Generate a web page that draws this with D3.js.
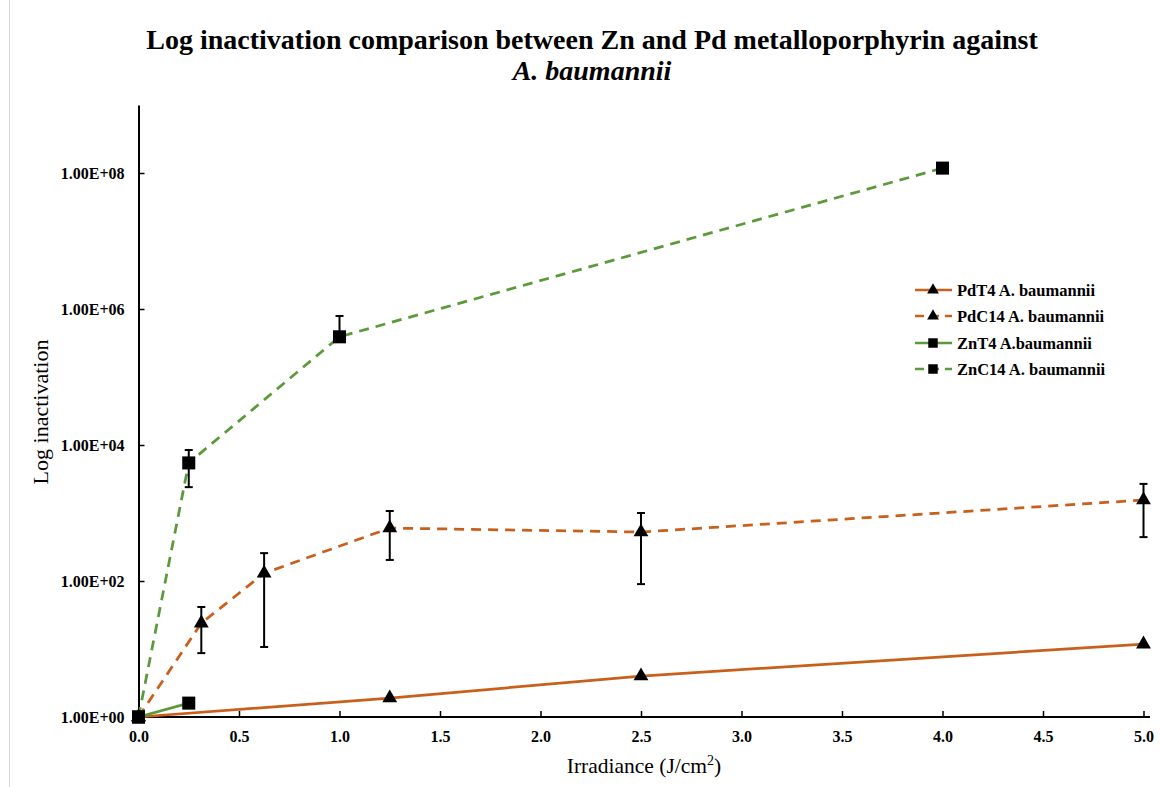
<!DOCTYPE html>
<html><head><meta charset="utf-8">
<script src="https://cdn.jsdelivr.net/npm/d3@7"></script>
<style>body{margin:0;background:#fff}svg{display:block}</style>
</head><body><svg id="c" width="1160" height="787"></svg>
<script>
const seriesNames = ["PdT4 A. baumannii","PdC14 A. baumannii","ZnT4 A.baumannii","ZnC14 A. baumannii"];
const pdT4X = [0, 1.25, 2.5, 5.0];
const pdT4Y = [1, 1.9, 4.0, 11.8];
const pdC14X = [0, 0.3125, 0.625, 1.25, 2.5, 5.0];
const pdC14Y = [1, 24, 130, 600, 525, 1550];
const pdC14Hi = [null, 41.5, 257, 1070, 1000, 2680];
const pdC14Lo = [null, 8.7, 10.7, 204, 90, 442];
const znT4X = [0, 0.25];
const znT4Y = [1, 1.6];
const znC14X = [0, 0.25, 1.0, 4.0];
const znC14Y = [1, 5450, 390000, 118000000];
const znC14Hi = [null, 8450, 790000, null];
const znC14Lo = [null, 2400, 340000, null];
const xTicks = [0,0.5,1,1.5,2,2.5,3,3.5,4,4.5,5];
const yTicks = [1,1e2,1e4,1e6,1e8];

const svg = d3.select("#c");
const serif = "'Liberation Serif','Times New Roman',serif";
const orange = "#C8601C", green = "#5B9A3A";

const x = d3.scaleLinear().domain([0,5]).range([138.5,1143.5]);
const y = d3.scaleLog().domain([1,1e9]).range([717,105]);

svg.append("line").attr("x1",9.5).attr("x2",9.5).attr("y1",0).attr("y2",787).attr("stroke","#d9d9d9").attr("stroke-width",1);

const t = svg.append("text").attr("text-anchor","middle").attr("font-family",serif).attr("font-weight","bold").attr("font-size",28).attr("fill","#000");
t.append("tspan").attr("x",592).attr("y",49).text("Log inactivation comparison between Zn and Pd metalloporphyrin against");
t.append("tspan").attr("x",592).attr("y",80).attr("font-style","italic").text("A. baumannii");

const xAxis = svg.append("g").attr("transform","translate(0,717)")
  .call(d3.axisBottom(x).tickValues(xTicks).tickSizeInner(-6).tickSizeOuter(0).tickPadding(14).tickFormat(d3.format(".1f")));
xAxis.select(".domain").attr("d","M138.5,0H1150").attr("stroke-width",2);
const yAxis = svg.append("g").attr("transform","translate(138.5,0)")
  .call(d3.axisLeft(y).tickValues(yTicks).tickSizeInner(-6).tickSizeOuter(0).tickPadding(14).tickFormat(d => d3.format(".2e")(d).replace("e+","E+0").toUpperCase()));
yAxis.select(".domain").attr("stroke-width",2);
[xAxis,yAxis].forEach(a=>{
  a.selectAll(".tick line").attr("stroke-width",1.5);
  a.selectAll("text").attr("font-family",serif).attr("font-weight","bold").attr("font-size",16).attr("fill","#000");
});
yAxis.selectAll("text").attr("dy","0.35em");

svg.append("text").attr("x",644).attr("y",773).attr("text-anchor","middle").attr("font-family",serif).attr("font-size",21.5)
  .html("Irradiance (J/cm<tspan dy='-8' font-size='14'>2</tspan><tspan dy='8'>)</tspan>");
svg.append("text").attr("transform","translate(48,412) rotate(-90)").attr("text-anchor","middle").attr("font-family",serif).attr("font-size",22).text("Log inactivation");

const line = d3.line().x(d=>x(d[0])).y(d=>y(d[1]));
const series = [
  {xs:pdT4X, ys:pdT4Y, color:orange, dash:null, marker:"tri"},
  {xs:pdC14X, ys:pdC14Y, color:orange, dash:"10,7", marker:"tri", hi:pdC14Hi, lo:pdC14Lo},
  {xs:znT4X, ys:znT4Y, color:green, dash:null, marker:"sq"},
  {xs:znC14X, ys:znC14Y, color:green, dash:"10,7", marker:"sq", hi:znC14Hi, lo:znC14Lo},
];
const tri = d3.symbol().type(d3.symbolTriangle).size(95);
const sq = d3.symbol().type(d3.symbolSquare).size(170);

series.forEach(s=>{
  const pts = s.xs.map((v,i)=>[v,s.ys[i]]);
  svg.append("path").attr("d",line(pts)).attr("fill","none").attr("stroke",s.color).attr("stroke-width",2.75)
    .attr("stroke-dasharray",s.dash);
});
series.forEach(s=>{
  if(s.hi){
    s.xs.forEach((v,i)=>{
      if(s.hi[i]==null) return;
      const g = svg.append("g").attr("stroke","#000").attr("stroke-width",2);
      const cx = x(v);
      g.append("line").attr("x1",cx).attr("x2",cx).attr("y1",y(s.hi[i])).attr("y2",y(s.lo[i]));
      g.append("line").attr("x1",cx-4).attr("x2",cx+4).attr("y1",y(s.hi[i])).attr("y2",y(s.hi[i]));
      g.append("line").attr("x1",cx-4).attr("x2",cx+4).attr("y1",y(s.lo[i])).attr("y2",y(s.lo[i]));
    });
  }
  s.xs.forEach((v,i)=>{
    svg.append("path").attr("d",(s.marker==="tri"?tri:sq)()).attr("transform",`translate(${x(v)},${y(s.ys[i])})`).attr("fill","#000");
  });
});

const legY = [290,316,343,369];
series.forEach((s,i)=>{
  const g = svg.append("g").attr("transform",`translate(915,${legY[i]})`);
  g.append("line").attr("x1",0).attr("x2",37).attr("y1",0).attr("y2",0).attr("stroke",s.color).attr("stroke-width",2.5).attr("stroke-dasharray",s.dash? "9,6":null);
  g.append("path").attr("d",(s.marker==="tri"?d3.symbol().type(d3.symbolTriangle).size(60):d3.symbol().type(d3.symbolSquare).size(90))()).attr("transform","translate(18,0)").attr("fill","#000");
  g.append("text").attr("x",42).attr("y",0).attr("dy","0.35em").attr("font-family",serif).attr("font-weight","bold").attr("font-size",16.5).text(seriesNames[i]);
});
</script></body></html>
